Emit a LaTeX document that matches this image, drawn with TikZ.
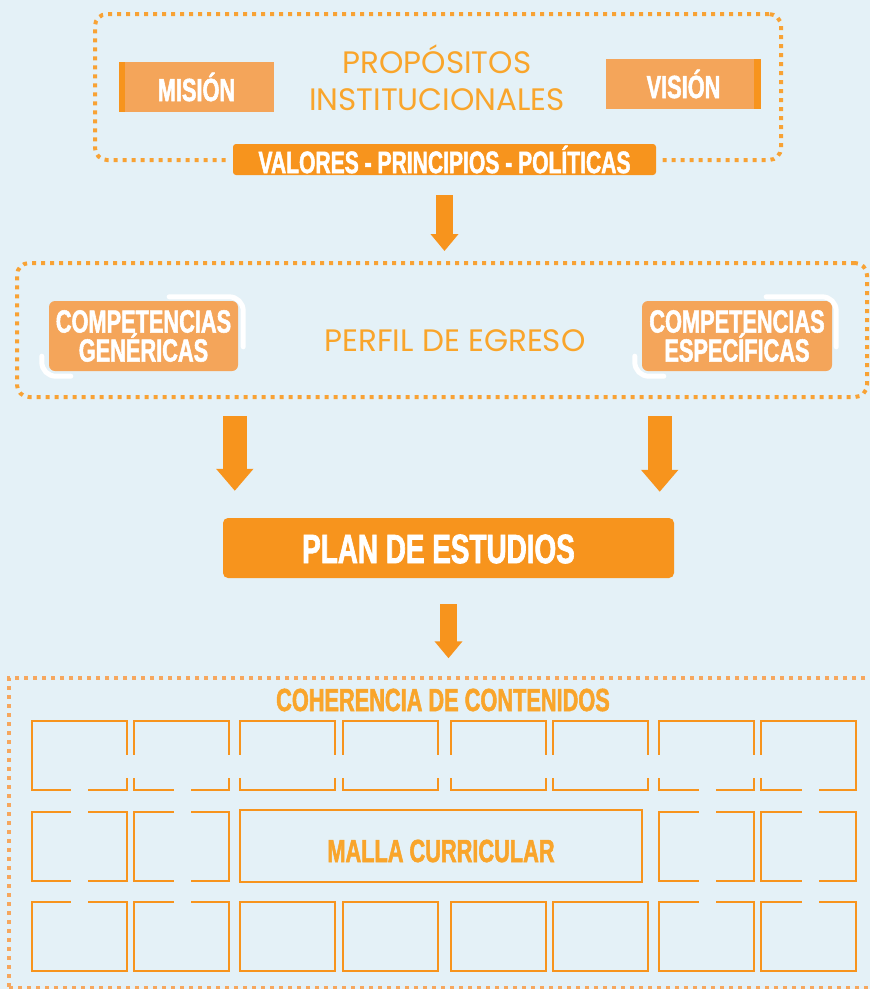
\documentclass[tikz,border=0pt]{standalone}
\usepackage{fontspec}
\setmainfont{Liberation Sans}
\newfontfamily\heavyfont[FakeStretch=0.68, BoldFeatures={FakeBold=1.6}]{Liberation Sans}
\newfontfamily\thinfont{Poppins}
\usetikzlibrary{arrows.meta,calc}
\definecolor{bgblue}{HTML}{E4F1F7}
\definecolor{dorange}{HTML}{F7941D}
\definecolor{lorange}{HTML}{F4A55A}
\definecolor{dotorange}{HTML}{F8A234}
\definecolor{paleorange}{HTML}{F6A75E}
\definecolor{txtorange}{HTML}{F9A52B}
\tikzset{
  dotbox/.style={draw=dotorange, line width=4pt, dash pattern=on 4pt off 5pt, rounded corners=12pt, inner sep=0pt},
  tag/.style={fill=lorange, text=white, font=\heavyfont\bfseries\fontsize{32}{29}\selectfont, align=center, inner sep=0pt},
  bar/.style={fill=dorange, text=white, font=\heavyfont\bfseries\fontsize{31}{31}\selectfont, inner sep=0pt},
  thintitle/.style={text=txtorange, font=\thinfont\fontsize{31}{37}\selectfont, align=center, inner sep=0pt},
  swoosh/.style={draw=white, line width=5pt, line cap=round, rounded corners=14pt},
  bigarrow/.style={draw=dorange, line width=17pt, -{Triangle[width=27pt,length=17pt]}},
  widearrow/.style={draw=dorange, line width=24pt, -{Triangle[width=36pt,length=22pt]}},
  cell/.style={draw=dorange, line width=2pt, minimum width=95pt, minimum height=69pt, inner sep=0pt},
}
\begin{document}
\begin{tikzpicture}[x=1pt,y=-1pt]
\useasboundingbox (0,0) rectangle (870,989);
\fill[bgblue] (0,0) rectangle (870,989);

% propositos institucionales
\node[dotbox, minimum width=686pt, minimum height=146pt] (propbox) at (438,87) {};
\node[thintitle] (prop) at (437,78) {PROPÓSITOS\\INSTITUCIONALES};
\node[tag, rounded corners=0pt, minimum width=155pt, minimum height=50pt] (mision) at (196.5,87) {MISIÓN};
\fill[dorange] (mision.north west) rectangle ($(mision.south west)+(6,0)$);
\node[tag, rounded corners=0pt, minimum width=155pt, minimum height=50pt] (vision) at (683.5,84) {VISIÓN};
\fill[dorange] ($(vision.north east)+(-7,0)$) rectangle (vision.south east);
\node[bar, rounded corners=3pt, minimum width=423pt, minimum height=31pt,
  preaction={draw=bgblue, line width=12pt}] (valores) at (444.5,159.5) {VALORES - PRINCIPIOS - POLÍTICAS};

\draw[bigarrow, shorten <=20pt, shorten >=12pt] (valores.south) -- (valores.south |- 0,263);

% perfil de egreso
\node[dotbox, minimum width=850pt, minimum height=134pt] (perfil) at (442,330) {};
\node[thintitle] (egreso) at (455,341) {PERFIL DE EGRESO};
\node[tag, rounded corners=6pt, minimum width=189pt, minimum height=70pt] (gen) at (143.5,336) {COMPETENCIAS\\GENÉRICAS};
\node[tag, rounded corners=6pt, minimum width=190pt, minimum height=70pt] (esp) at (737,336) {COMPETENCIAS\\ESPECÍFICAS};
\draw[swoosh] ($(gen.north east)+(-69,-4)$) -| ($(gen.north east)+(5,46)$);
\draw[swoosh] ($(gen.south west)+(-7,-15)$) |- ($(gen.south west)+(22,5)$);
\draw[swoosh] ($(esp.north east)+(-66,-4)$) -| ($(esp.north east)+(4,46)$);
\draw[swoosh] ($(esp.south west)+(-7,-15)$) |- ($(esp.south west)+(22,5)$);

% plan de estudios
\node[bar, rounded corners=5pt, minimum width=451pt, minimum height=60pt] (plan) at (448.5,548) {};
\node[text=white, font=\heavyfont\bfseries\fontsize{41}{41}\selectfont, inner sep=0pt] (plantxt) at (438.5,549) {PLAN DE ESTUDIOS};
\draw[widearrow, shorten <=17pt, shorten >=27pt] ($(perfil.south -| plan.west)+(12,0)$) -- ($(plan.north west)+(12,0)$);
\draw[widearrow, shorten <=17pt, shorten >=26pt] ($(perfil.south -| plan.east)+(-14.5,0)$) -- ($(plan.north east)+(-14.5,0)$);

% coherencia de contenidos
\begin{scope}
\clip (0,0) rectangle (870,989);
\node[dotbox, draw=paleorange, line width=3.5pt, rounded corners=0pt, minimum width=876pt, minimum height=310pt] (coher) at (447,833) {};
\end{scope}
\draw[bigarrow, shorten <=26pt, shorten >=18pt] (plan.south) -- (plan.south |- coher.north);
\node[text=txtorange, font=\heavyfont\bfseries\fontsize{32}{32}\selectfont, inner sep=0pt] (cohertxt) at (443,700) {COHERENCIA DE CONTENIDOS};

\foreach \x [count=\i] in {79.5,181.5,287,390,498,600,706,808.5} {
  \node[cell] (top\i) at (\x,755.5) {};
  \node[cell] (low\i) at (\x,936.5) {};
}
\foreach \x [count=\i] in {79.5,181.5,706,808.5}
  \node[cell] (mid\i) at (\x,846.5) {};
\node[cell, minimum width=402pt, minimum height=72pt] (malla) at (441,846) {};
\node[text=txtorange, font=\heavyfont\bfseries\fontsize{32}{32}\selectfont, inner sep=0pt] (mallatxt) at (441,851) {MALLA CURRICULAR};

% pasillos
\fill[bgblue] (124,755) rectangle (763,778);
\foreach \gx in {71,174,699,802}
  \fill[bgblue] (\gx,786) rectangle ({\gx+17},906);
\end{tikzpicture}
\end{document}
